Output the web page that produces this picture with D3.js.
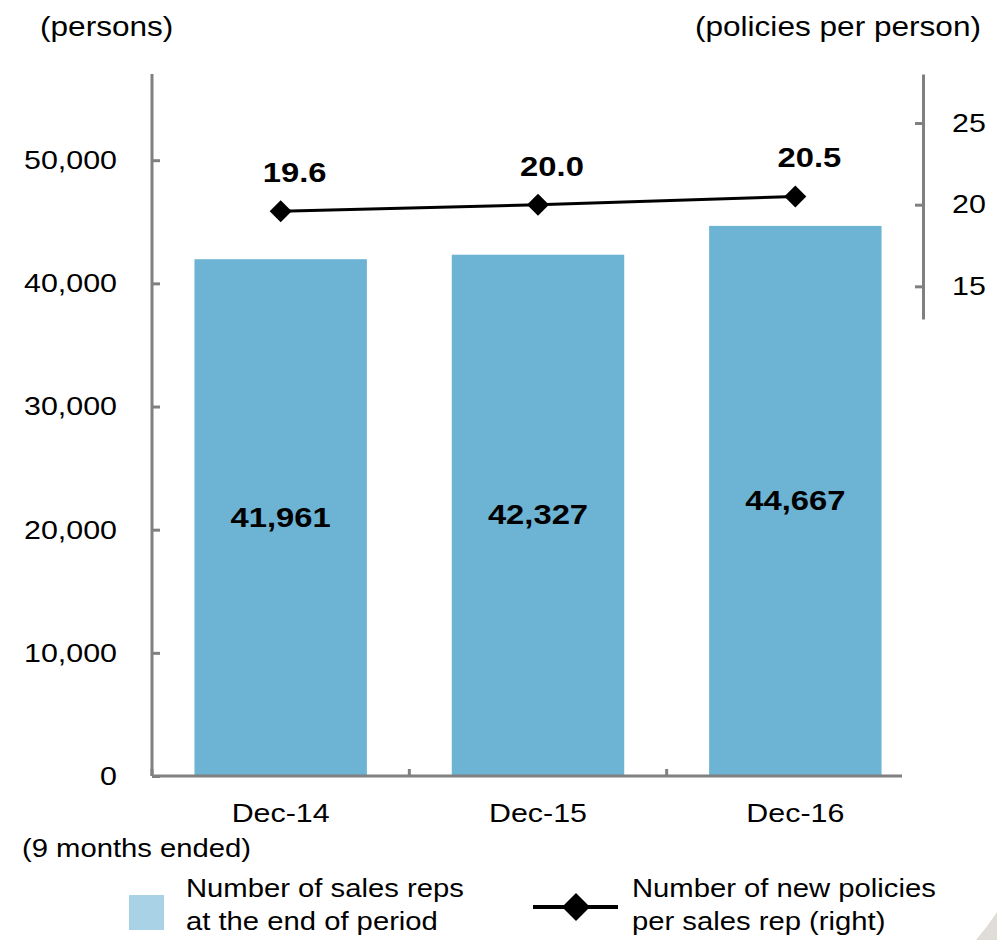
<!DOCTYPE html>
<head>
  <meta charset="utf-8">
  <title>Sales reps and new policies per rep</title>
  <script src="https://cdn.jsdelivr.net/npm/d3@7"></script>
  <style>
    body { margin: 0; background: white; }
    text { font-family: "Liberation Sans", Arial, sans-serif; fill: #000; }
    .axis path, .axis line { stroke: #808080; stroke-width: 3; }
    .axis text { font-size: 26px; }
  </style>
</head>
<body>
<script>
// data
const periods = ["Dec-14", "Dec-15", "Dec-16"];
const salesReps = [41961, 42327, 44667];
const policiesPerRep = [19.6, 20.0, 20.5];
const leftTicks = [0, 10000, 20000, 30000, 40000, 50000];
const rightTicks = [15, 20, 25];

const W = 997, H = 940;
const plot = { left: 152, right: 924, top: 74, bottom: 776 };
const stretch = 1.17; // the original text is drawn wide

const svg = d3.select("body").append("svg")
  .attr("width", W).attr("height", H);

const x = d3.scaleBand().domain(periods)
  .range([plot.left, plot.right]).paddingInner(0.33).paddingOuter(0.165);
const yL = d3.scaleLinear().domain([0, 57000]).range([plot.bottom, plot.top]);
const yR = d3.scaleLinear().domain([13, 28]).range([319, plot.top]);

// bars
svg.selectAll("rect.bar").data(salesReps).enter().append("rect")
  .attr("class", "bar")
  .attr("x", (d, i) => x(periods[i]))
  .attr("width", x.bandwidth())
  .attr("y", d => yL(d))
  .attr("height", d => yL(0) - yL(d))
  .attr("fill", "#6cb3d4");

svg.selectAll("text.barlabel").data(salesReps).enter().append("text")
  .attr("x", (d, i) => x(periods[i]) + x.bandwidth() / 2)
  .attr("y", d => (yL(d) + yL(0)) / 2 + 9)
  .attr("text-anchor", "middle")
  .style("font-size", "28px").style("font-weight", "bold")
  .text(d => d3.format(",")(d));

// left axis
const axL = svg.append("g").attr("class", "axis")
  .attr("transform", `translate(${plot.left},0)`)
  .call(d3.axisLeft(yL).tickValues(leftTicks).tickFormat(d3.format(","))
    .tickSizeInner(-8).tickSizeOuter(0).tickPadding(35));
axL.select(".domain").attr("d", `M0,${plot.top}V${plot.bottom}`);

// right axis
svg.append("g").attr("class", "axis")
  .attr("transform", `translate(${plot.right - 1},0)`)
  .call(d3.axisRight(yR).tickValues(rightTicks)
    .tickSizeInner(-8).tickSizeOuter(0).tickPadding(29));

// x axis: baseline + separators between categories
const xAxisEnd = 902;
svg.append("line")
  .attr("x1", plot.left).attr("x2", xAxisEnd)
  .attr("y1", plot.bottom).attr("y2", plot.bottom)
  .attr("stroke", "#808080").attr("stroke-width", 3);
const seps = periods.map(p => x(p) - x.step() * x.paddingInner() / 2)
  .map((v, i) => i === 0 ? plot.left : v);
svg.selectAll("line.sep").data(seps).enter().append("line")
  .attr("x1", d => d).attr("x2", d => d)
  .attr("y1", plot.bottom).attr("y2", plot.bottom - 7)
  .attr("stroke", "#808080").attr("stroke-width", 3);

svg.selectAll("text.cat").data(periods).enter().append("text")
  .attr("x", d => x(d) + x.bandwidth() / 2)
  .attr("y", 822)
  .attr("text-anchor", "middle")
  .style("font-size", "26px")
  .text(d => d);

svg.append("text").attr("x", 22).attr("y", 857)
  .style("font-size", "25px").text("(9 months ended)");

// line series
const cx = (d, i) => x(periods[i]) + x.bandwidth() / 2;
const line = d3.line().x(cx).y(d => yR(d));
svg.append("path").datum(policiesPerRep)
  .attr("d", line).attr("fill", "none")
  .attr("stroke", "#000").attr("stroke-width", 3);

const diamond = "M0,-11L11,0L0,11L-11,0Z";
svg.selectAll("path.pt").data(policiesPerRep).enter().append("path")
  .attr("d", diamond)
  .attr("transform", (d, i) => `translate(${cx(d, i)},${yR(d)})`)
  .attr("fill", "#000");

svg.selectAll("text.ptlabel").data(policiesPerRep).enter().append("text")
  .attr("x", (d, i) => cx(d, i) + 14)
  .attr("y", d => yR(d) - 29)
  .attr("text-anchor", "middle")
  .style("font-size", "28px").style("font-weight", "bold")
  .text(d => d.toFixed(1));

// axis titles
svg.append("text").attr("x", 40).attr("y", 36)
  .style("font-size", "27px").text("(persons)");
svg.append("text").attr("x", 981).attr("y", 36)
  .attr("text-anchor", "end")
  .style("font-size", "27px").text("(policies per person)");

// legend
svg.append("rect").attr("x", 129).attr("y", 895).attr("width", 35).attr("height", 35)
  .attr("fill", "#a9d2e6");
const lg1 = svg.append("text").attr("x", 186).attr("y", 897).style("font-size", "25px");
lg1.append("tspan").attr("x", 186).text("Number of sales reps");
lg1.append("tspan").attr("x", 186).attr("dy", 33).text("at the end of period");

svg.append("line").attr("x1", 533).attr("x2", 618).attr("y1", 907).attr("y2", 907)
  .attr("stroke", "#000").attr("stroke-width", 4);
svg.append("path").attr("d", "M0,-14L14,0L0,14L-14,0Z")
  .attr("transform", "translate(576,907)").attr("fill", "#000");
const lg2 = svg.append("text").attr("x", 632).attr("y", 897).style("font-size", "25px");
lg2.append("tspan").attr("x", 632).text("Number of new policies");
lg2.append("tspan").attr("x", 632).attr("dy", 33).text("per sales rep (right)");

// page curl in the corner
svg.append("path").attr("d", "M976,940Q988,926 997,912L997,940Z").attr("fill", "#e0dcd7");

// widen every text horizontally around its anchor x
svg.selectAll("text").each(function () {
  const x0 = +this.getAttribute("x") || 0;
  d3.select(this).attr("transform", `translate(${x0 * (1 - stretch)},0) scale(${stretch},1)`);
});
</script>
</body>
